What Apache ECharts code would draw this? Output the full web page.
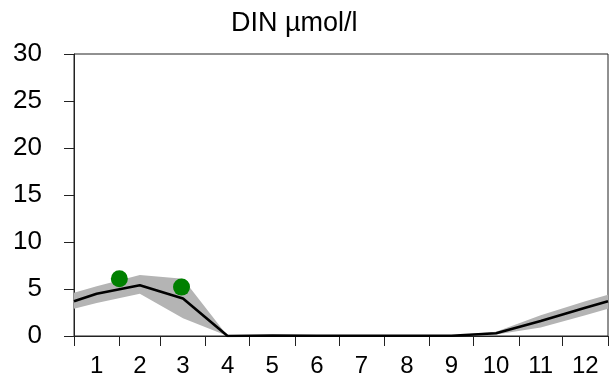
<!DOCTYPE html>
<html>
<head>
<meta charset="utf-8">
<style>
  html, body { margin: 0; padding: 0; background: #fff; }
  #chart { width: 613px; height: 383px; }
</style>
<script src="https://cdn.jsdelivr.net/npm/echarts@6/dist/echarts.min.js"></script>
</head>
<body>
<div id="chart"></div>
<script>
// Day-of-year positions of the climatology (mid-month, plus year ends)
const days = [0, 15.5, 45, 74.5, 105, 135.5, 166, 196.5, 227.5, 258, 288.5, 319, 349.5, 365];
// DIN mean and spread (µmol/l)
const meanValues  = [3.7, 4.5, 5.4, 4.0, 0, 0.05, 0.03, 0.02, 0.02, 0.03, 0.3, 1.6, 3.0, 3.7];
const lowerValues = [2.9, 3.5, 4.5, 1.9, 0, 0.03, 0.02, 0.01, 0.01, 0.02, 0.15, 0.9, 2.2, 2.9];
const upperValues = [4.6, 5.3, 6.5, 6.1, 0, 0.07, 0.05, 0.03, 0.03, 0.05, 0.45, 2.2, 3.7, 4.4];
// Observations: [day of year, value]
const obsDays   = [31, 73.5];
const obsValues = [6.1, 5.2];
// Month boundaries (ticks) and month labels
const monthStarts = [0, 31, 59, 90, 120, 151, 181, 212, 243, 273, 304, 334, 365];
const monthLabels = ['1', '2', '3', '4', '5', '6', '7', '8', '9', '10', '11', '12'];
const yTicks = [0, 5, 10, 15, 20, 25, 30];

const monthMids = monthLabels.map((_, i) => (monthStarts[i] + monthStarts[i + 1]) / 2);
const pair = (xs, ys) => xs.map((x, i) => [x, ys[i]]);
const bandRows = days.map((d, i) => [d, lowerValues[i], upperValues[i]]);

const chart = echarts.init(document.getElementById('chart'), null, { renderer: 'canvas' });
const font = 'Liberation Sans, Arial, sans-serif';

// Spread band: one polygon through the upper edge and back along the lower edge
function renderBand(params, api) {
  if (params.dataIndexInside !== 0) return null;
  const upper = bandRows.map(r => api.coord([r[0], r[2]]));
  const lower = bandRows.map(r => api.coord([r[0], r[1]])).reverse();
  return {
    type: 'polygon',
    shape: { points: upper.concat(lower) },
    style: { fill: '#b4b4b4', stroke: null }
  };
}

chart.setOption({
  animation: false,
  title: {
    text: 'DIN µmol/l',
    left: 226, top: 5,
    textStyle: { fontFamily: font, fontSize: 27, fontWeight: 'normal', color: '#000' }
  },
  grid: {
    left: 74, right: 5, top: 54, bottom: 47,
    show: true, borderColor: '#222', borderWidth: 1, backgroundColor: 'transparent'
  },
  xAxis: {
    type: 'value', min: 0, max: 365,
    axisLine: { show: true, lineStyle: { color: '#222', width: 1 } },
    axisTick: { show: true, length: 10, customValues: monthStarts, lineStyle: { color: '#222' } },
    axisLabel: {
      customValues: monthMids,
      formatter: v => monthLabels[monthMids.indexOf(v)],
      fontFamily: font, fontSize: 24, color: '#000', margin: 18
    },
    splitLine: { show: false }
  },
  yAxis: {
    type: 'value', min: 0, max: 30, interval: 5,
    axisLine: { show: true, lineStyle: { color: '#222', width: 1 } },
    axisTick: { show: true, length: 10, customValues: yTicks, lineStyle: { color: '#222' } },
    axisLabel: { customValues: yTicks, fontFamily: font, fontSize: 26, color: '#000', margin: 32 },
    splitLine: { show: false }
  },
  series: [
    {
      type: 'custom', data: bandRows, renderItem: renderBand,
      encode: { x: 0, y: [1, 2] }, silent: true, z: 1
    },
    {
      type: 'line', data: pair(days, meanValues),
      symbol: 'none', lineStyle: { color: '#000', width: 2.6 }, z: 2
    },
    {
      type: 'scatter', data: pair(obsDays, obsValues),
      symbol: 'circle', symbolSize: 17,
      itemStyle: { color: '#008000', opacity: 1 }, z: 3
    }
  ]
});
</script>
</body>
</html>
